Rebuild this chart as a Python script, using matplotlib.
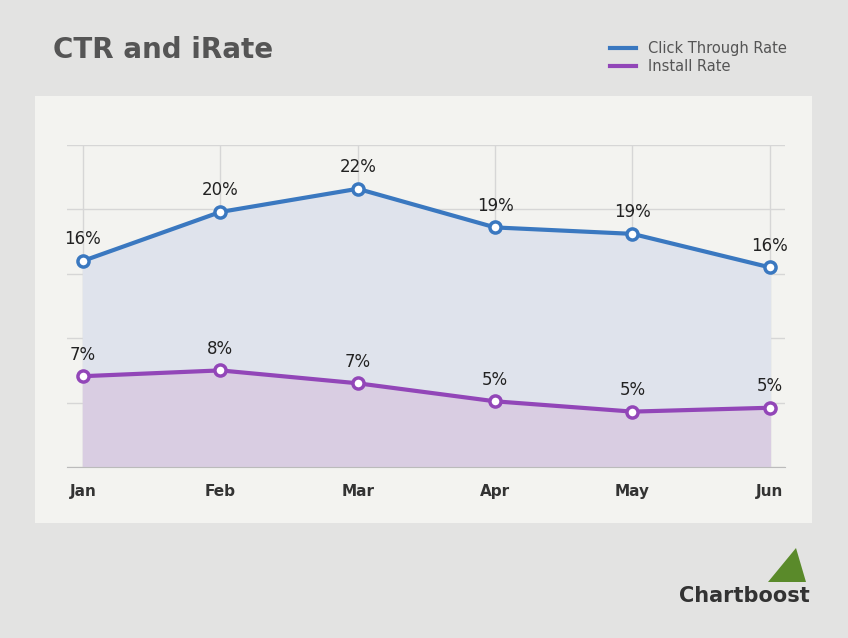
import matplotlib.pyplot as plt
from matplotlib.patches import Rectangle, Polygon
from matplotlib.lines import Line2D

months = ["Jan", "Feb", "Mar", "Apr", "May", "Jun"]
ctr = [16.0, 19.8, 21.6, 18.6, 18.1, 15.5]
irate = [7.05, 7.5, 6.5, 5.1, 4.3, 4.6]
ctr_labels = ["16", "20", "22", "19", "19", "16"]
irate_labels = ["7", "8", "7", "5", "5", "5"]

blue = "#3a78c0"
purple = "#9246b8"

fig = plt.figure(figsize=(8.48, 6.38), dpi=100)
fig.patch.set_facecolor("#e3e3e2")

# light panel behind the chart (drawn below the axes)
fig.patches.append(Rectangle((35 / 848, 1 - 523 / 638), 777 / 848, 427 / 638,
                             transform=fig.transFigure, facecolor="#f3f3f0",
                             edgecolor="none", zorder=-10))

ax = fig.add_axes([67 / 848, 1 - 467 / 638, 718 / 848, 322 / 638])
ax.set_facecolor("none")
x = list(range(len(months)))

ax.fill_between(x, irate, ctr, color="#dfe3ec", zorder=1)
ax.fill_between(x, 0, irate, color="#d9cde2", zorder=1)
ax.plot(x, ctr, color=blue, lw=3, marker="o", ms=8, mfc="white", mec=blue, mew=2.5, zorder=4)
ax.plot(x, irate, color=purple, lw=3, marker="o", ms=8, mfc="white", mec=purple, mew=2.5, zorder=4)

for i in x:
    ax.annotate(ctr_labels[i] + "%", (i, ctr[i]), xytext=(0, 12), textcoords="offset points",
                ha="center", fontsize=12, color="#222222", zorder=5)
    ax.annotate(irate_labels[i] + "%", (i, irate[i]), xytext=(0, 12), textcoords="offset points",
                ha="center", fontsize=12, color="#222222", zorder=5)

ax.set_xlim(-0.116, 5.11)
ax.set_ylim(0, 25)
ax.set_yticks([0, 5, 10, 15, 20, 25])
ax.set_xticks(x)
ax.set_xticklabels(months, fontsize=11, fontweight="bold", color="#333333")
ax.tick_params(length=0, pad=12)
ax.set_yticklabels([])
ax.grid(True, color="#d6d6d6", lw=1, zorder=0)
ax.set_axisbelow(True)
for s in ["top", "right", "left"]:
    ax.spines[s].set_visible(False)
ax.spines["bottom"].set_color("#bbbbbb")

fig.text(53 / 848, 1 - 50 / 638, "CTR and iRate", fontsize=20, fontweight="bold",
         color="#555555", va="center")

handles = [Line2D([], [], color=blue, lw=3), Line2D([], [], color=purple, lw=3)]
fig.legend(handles, ["Click Through Rate", "Install Rate"], loc="upper right",
           bbox_to_anchor=(800 / 848, 1 - 28 / 638), frameon=False, fontsize=10.5,
           handlelength=1.8, labelspacing=0.2, labelcolor="#555555")

fig.text(810 / 848, 1 - 596 / 638, "Chartboost", fontsize=15, fontweight="bold",
         color="#333333", ha="right", va="center")
fig.patches.append(Polygon([(768 / 848, 1 - 582 / 638), (806 / 848, 1 - 582 / 638),
                            (796 / 848, 1 - 548 / 638)], closed=True,
                           transform=fig.transFigure, facecolor="#5a8a2a", edgecolor="none"))

fig.savefig("out.png", dpi=100, facecolor=fig.get_facecolor())
